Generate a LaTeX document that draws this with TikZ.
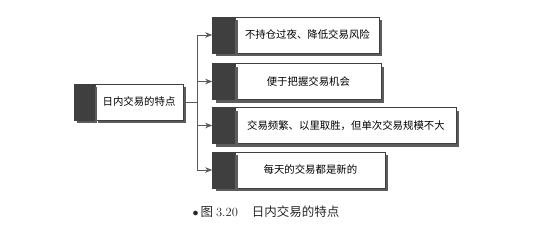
\documentclass[tikz,border=0pt]{standalone}
\usepackage{fontspec}
\newfontfamily\cjk{Noto Sans CJK SC}
\usetikzlibrary{arrows.meta,positioning,shadows}
\definecolor{blockgray}{HTML}{3F3F3F}
\definecolor{shadegray}{HTML}{5C5C5C}
\definecolor{linegray}{HTML}{5A5A5A}

\begin{document}
\begin{tikzpicture}[
    x=1pt, y=-1pt,
    font=\cjk\fontsize{10.4}{12}\selectfont,
    boxshadow/.style={drop shadow={shadow xshift=3pt, shadow yshift=-3pt, fill=shadegray, opacity=1}},
    textbox/.style={draw=blockgray, line width=0.8pt, fill=white, minimum height=36pt, inner sep=0pt, boxshadow},
    darkbox/.style={draw=blockgray, line width=0.8pt, fill=blockgray, minimum height=36pt, inner sep=0pt, boxshadow},
    link/.style={draw=linegray, line width=0.8pt},
    feed/.style={link, -{Stealth[length=7pt, width=5.5pt]}}
]
    \useasboundingbox (0,0) rectangle (534,233);
    % main topic on the left
    \node[textbox, minimum width=88pt] (t0) at (139,102) {日内交易的特点};
    \node[darkbox, minimum width=20pt, left=0pt of t0] (k0) {};
    % the four features
    \node[textbox, minimum width=144pt, anchor=west] (t1) at (235,35) {不持仓过夜、降低交易风险};
    \node[textbox, minimum width=146pt, anchor=west] (t2) at (235,81.5) {便于把握交易机会};
    \node[textbox, minimum width=221pt, anchor=west] (t3) at (235,125.5) {交易频繁、以里取胜，但单次交易规模不大};
    \node[textbox, minimum width=150pt, anchor=west] (t4) at (235,170) {每天的交易都是新的};
    \foreach \i in {1,...,4}
        \node[darkbox, minimum width=22pt, left=0pt of t\i] (k\i) {};
    % connectors
    \coordinate (split) at (197,102);
    \draw[link] (t0.east) -- (split);
    \draw[link] (split |- k1.west) -- (split |- k4.west);
    \foreach \i in {1,...,4}
        \draw[feed] (split |- k\i.west) -- (k\i.west);
    % caption
    \node[text=black!85] (caption) at (266,212) {\fontsize{12.5}{14}\selectfont $\bullet$\hspace{2pt}图\hspace{3pt}{\rmfamily 3.20}\hspace{14pt}日内交易的特点};
\end{tikzpicture}
\end{document}
